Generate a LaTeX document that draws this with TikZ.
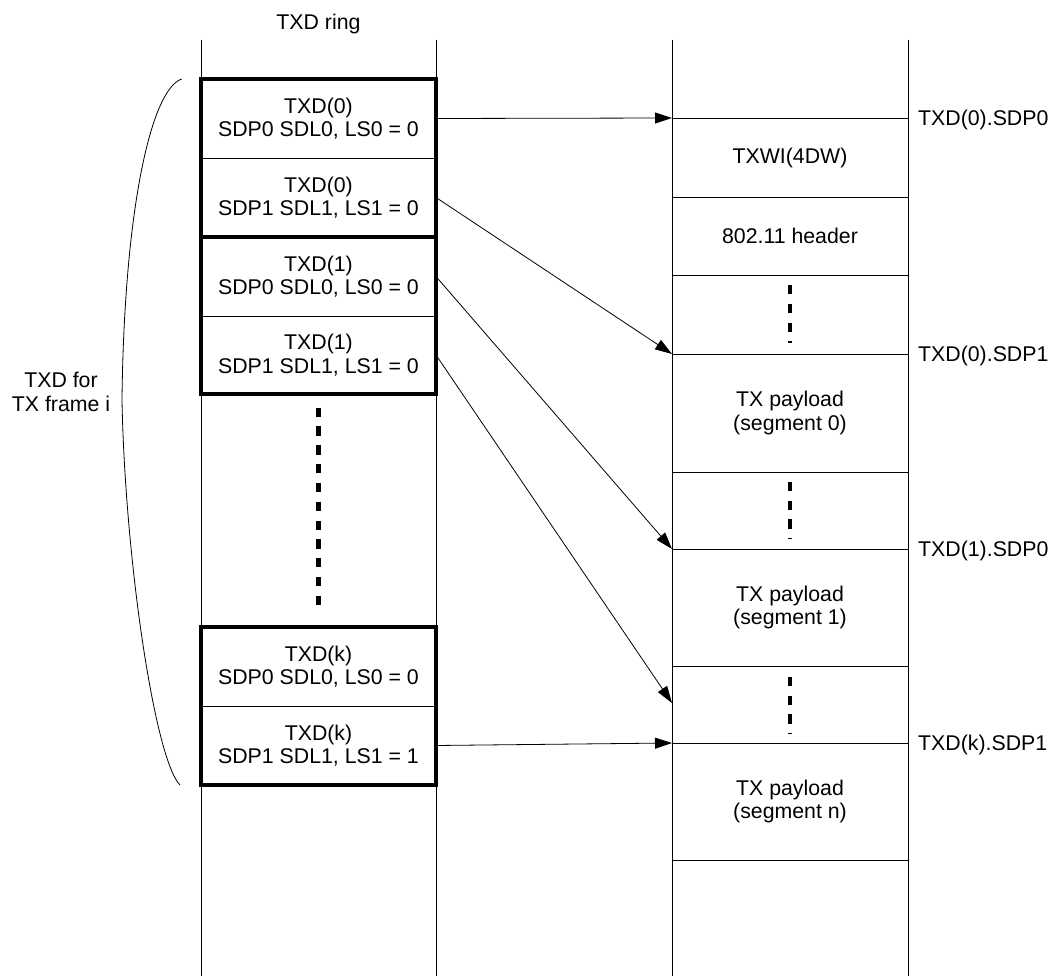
\documentclass[tikz,border=0pt]{standalone}
\usepackage{fontspec}
\setmainfont{Liberation Sans}
\usetikzlibrary{arrows.meta}
\tikzset{
  txt/.style={font=\fontsize{21.3}{23.5}\selectfont},
  lcell/.style={txt, draw, line width=0.9pt, rectangle, inner sep=0pt, outer sep=0pt, align=center, minimum width=235pt},
  rcell/.style={txt, draw, line width=0.9pt, rectangle, inner sep=0pt, outer sep=0pt, align=center, minimum width=236pt},
  grp/.style={line width=3.8pt, line join=miter},
  col/.style={line width=0.9pt},
  vdots/.style={line width=4.5pt, dash pattern=on 9.3pt off 9.5pt},
  arr/.style={line width=0.8pt, -{Triangle[length=17pt,width=11pt]}},
  ptr/.style={txt, anchor=base west, inner sep=0pt},
  brace/.style={line width=0.8pt}
}
\begin{document}
\begin{tikzpicture}[x=1pt,y=-1pt]
\useasboundingbox (0,0) rectangle (1053,976);
% title
\node[txt, anchor=base] (title) at (318.5,30) {TXD ring};
% column lines
\draw[col] (201,40) -- (201,976);
\draw[col] (436,40) -- (436,976);
\draw[col] (672,40) -- (672,976);
\draw[col] (908,40) -- (908,976);
% left cells
\node[lcell, minimum height=79pt] (a0) at (318.5,118.5) {TXD(0)\\SDP0 SDL0, LS0 = 0};
\node[lcell, minimum height=79pt] (a1) at (318.5,197.5) {TXD(0)\\SDP1 SDL1, LS1 = 0};
\node[lcell, minimum height=79pt] (b0) at (318.5,276.5) {TXD(1)\\SDP0 SDL0, LS0 = 0};
\node[lcell, minimum height=78pt] (b1) at (318.5,355) {TXD(1)\\SDP1 SDL1, LS1 = 0};
\node[lcell, minimum height=79pt] (k0) at (318.5,666.5) {TXD(k)\\SDP0 SDL0, LS0 = 0};
\node[lcell, minimum height=79pt] (k1) at (318.5,745.5) {TXD(k)\\SDP1 SDL1, LS1 = 1};
\draw[grp] (a0.north west) rectangle (a1.south east);
\draw[grp] (b0.north west) rectangle (b1.south east);
\draw[grp] (k0.north west) rectangle (k1.south east);
\draw[vdots] (318.5,407.7) -- (318.5,605);
% right cells
\node[rcell, minimum height=79pt] (txwi) at (790,157.5) {TXWI(4DW)};
\node[rcell, minimum height=78pt] (hdr) at (790,236) {802.11 header};
\node[rcell, minimum height=79pt] (gap0) at (790,314.5) {};
\node[rcell, minimum height=118pt] (seg0) at (790,413) {TX payload\\(segment 0)};
\node[rcell, minimum height=77pt] (gap1) at (790,510.5) {};
\node[rcell, minimum height=117pt] (seg1) at (790,607.5) {TX payload\\(segment 1)};
\node[rcell, minimum height=77pt] (gap2) at (790,704.5) {};
\node[rcell, minimum height=117pt] (segn) at (790,801.5) {TX payload\\(segment n)};
\draw[vdots] (790,285) -- (790,343);
\draw[vdots] (790,481.7) -- (790,539.3);
\draw[vdots] (790,676.7) -- (790,734);
% pointer labels
\node[ptr] (p0) at (918,125.6) {TXD(0).SDP0};
\node[ptr] (p1) at (918,361.6) {TXD(0).SDP1};
\node[ptr] (p2) at (918,556.6) {TXD(1).SDP0};
\node[ptr] (p3) at (918,750.6) {TXD(k).SDP1};
% arrows
\coordinate (t4) at (672,703);
\draw[arr] (a0.east) -- (txwi.north west);
\draw[arr] (a1.east) -- (seg0.north west);
\draw[arr] (b0.east) -- (seg1.north west);
\draw[arr] (b1.east) -- (t4);
\draw[arr] (k1.east) -- (segn.north west);
% brace
\coordinate (bt) at (181.7,79);
\coordinate (bm) at (122,400);
\coordinate (bb) at (180,785);
\draw[brace] (bt) .. controls (150,90) and (124,215) .. (bm) .. controls (125,560) and (155,760) .. (bb);
\node[txt, align=center] (lab) at (61,392) {TXD for\\TX frame i};
\end{tikzpicture}
\end{document}
